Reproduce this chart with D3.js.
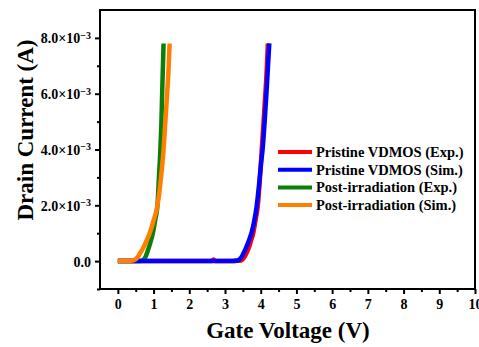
<!DOCTYPE html>
<html><head><meta charset="utf-8">
<script src="https://cdn.jsdelivr.net/npm/d3@7"></script>
<style>body{margin:0;background:#fff;}svg{display:block;}</style>
</head><body>
<script>
// ---- data ----
const seriesNames = ["Pristine VDMOS (Exp.)","Pristine VDMOS (Sim.)","Post-irradiation (Exp.)","Post-irradiation (Sim.)"];
const seriesColors = ["#ff0000","#0000ff","#0a800a","#ff8000"];
const pristineExpV = [0,1,2,2.62,2.68,2.73,3.0,3.4,3.48,3.54,3.6,3.66,3.72,3.79,3.86,3.92,3.98,4.03,4.08,4.13,4.17,4.2];
const pristineExpI = [0,0,0,0,0.06e-3,0,0,0.01e-3,0.05e-3,0.14e-3,0.28e-3,0.45e-3,0.7e-3,1.0e-3,1.5e-3,2.0e-3,3.0e-3,4.0e-3,5.0e-3,6.0e-3,6.9e-3,7.8e-3];
const pristineSimV = [0,1,2,3.2,3.33,3.4,3.46,3.51,3.57,3.64,3.7,3.75,3.82,3.89,3.95,4.01,4.06,4.11,4.16,4.2,4.24];
const pristineSimI = [0,0,0,0,0.02e-3,0.06e-3,0.14e-3,0.26e-3,0.42e-3,0.64e-3,0.85e-3,1.05e-3,1.45e-3,2.0e-3,2.7e-3,3.5e-3,4.1e-3,5.0e-3,6.0e-3,6.9e-3,7.8e-3];
const postExpV = [0,0.3,0.6,0.68,0.74,0.79,0.84,0.9,0.98,1.05,1.11,1.15,1.19,1.22,1.24,1.26,1.28];
const postExpI = [0,0,0,0.02e-3,0.08e-3,0.2e-3,0.38e-3,0.62e-3,1.0e-3,1.5e-3,2.0e-3,3.0e-3,4.0e-3,5.0e-3,6.0e-3,6.9e-3,7.8e-3];
const postSimV = [0,0.3,0.4,0.5,0.56,0.61,0.66,0.72,0.8,0.89,1.0,1.11,1.2,1.28,1.33,1.38,1.42,1.45];
const postSimI = [0,0.005e-3,0.02e-3,0.07e-3,0.15e-3,0.26e-3,0.36e-3,0.5e-3,0.72e-3,1.0e-3,1.45e-3,2.0e-3,2.9e-3,4.0e-3,5.0e-3,6.0e-3,6.9e-3,7.8e-3];
const xTicks = [0,1,2,3,4,5,6,7,8,9,10];
const xMinor = [0.5,1.5,2.5,3.5,4.5,5.5,6.5,7.5,8.5,9.5];
const yTicks = [0,2e-3,4e-3,6e-3,8e-3];
const yTickMantissa = ["0.0","2.0","4.0","6.0","8.0"];
const yMinor = [-1e-3,1e-3,3e-3,5e-3,7e-3];
const xTitle = "Gate Voltage (V)";
const yTitle = "Drain Current (A)";

const W = 479, H = 347;
const mLeft = 100, mRight = 475, mTop = 10, mBottom = 289;
const x = d3.scaleLinear().domain([-0.5,10]).range([mLeft,mRight]);
const y = d3.scaleLinear().domain([-1e-3,9e-3]).range([mBottom,mTop]);

const svg = d3.select("body").append("svg").attr("width",W).attr("height",H);
const font = "'Liberation Serif','Times New Roman',serif";

// series (draw order: red, green, blue, orange)
const series = [
  {V:pristineExpV,I:pristineExpI,i:0},
  {V:postExpV,I:postExpI,i:2},
  {V:pristineSimV,I:pristineSimI,i:1},
  {V:postSimV,I:postSimI,i:3}
];
const line = d3.line().x(d=>x(d[0])).y(d=>y(d[1])).curve(d3.curveMonotoneX);
series.forEach(s=>{
  const pts = s.V.map((v,k)=>[v,s.I[k]]);
  svg.append("path").attr("d",line(pts)).attr("fill","none")
    .attr("stroke",seriesColors[s.i]).attr("stroke-width",4.5).attr("stroke-linejoin","round");
});

// frame
svg.append("rect").attr("x",mLeft).attr("y",mTop).attr("width",mRight-mLeft).attr("height",mBottom-mTop)
  .attr("fill","none").attr("stroke","#000").attr("stroke-width",2);

// x axis
const xAxis = d3.axisBottom(x).tickValues(xTicks).tickSize(5).tickPadding(5).tickFormat(d3.format("d"));
const gx = svg.append("g").attr("transform",`translate(0,${mBottom})`).call(xAxis);
gx.select(".domain").remove();
gx.selectAll(".tick line").attr("stroke-width",2);
gx.selectAll("text").attr("font-family",font).attr("font-weight","bold").attr("font-size",14).attr("fill","#000");
const gxm = svg.append("g").attr("transform",`translate(0,${mBottom})`).call(d3.axisBottom(x).tickValues(xMinor).tickSize(3).tickFormat(""));
gxm.select(".domain").remove();
gxm.selectAll(".tick line").attr("stroke-width",2);

// y axis
const yAxis = d3.axisLeft(y).tickValues(yTicks).tickSize(5).tickPadding(4).tickFormat("");
const gy = svg.append("g").attr("transform",`translate(${mLeft},0)`).call(yAxis);
gy.select(".domain").remove();
gy.selectAll(".tick line").attr("stroke-width",2);
gy.selectAll(".tick").each(function(d,k){
  const t = d3.select(this).append("text").attr("x",-9).attr("dy","0.35em")
    .attr("text-anchor","end").attr("font-family",font).attr("font-weight","bold").attr("font-size",14).attr("fill","#000");
  if (d===0) { t.text(yTickMantissa[k]); }
  else {
    t.append("tspan").text(yTickMantissa[k]+"×10");
    t.append("tspan").attr("dy","-0.45em").attr("font-size",10).text("−3");
  }
});
const gym = svg.append("g").attr("transform",`translate(${mLeft},0)`).call(d3.axisLeft(y).tickValues(yMinor).tickSize(3).tickFormat(""));
gym.select(".domain").remove();
gym.selectAll(".tick line").attr("stroke-width",2);

// titles
svg.append("text").attr("x",288).attr("y",338).attr("text-anchor","middle")
  .attr("font-family",font).attr("font-weight","bold").attr("font-size",23).text(xTitle);
svg.append("text").attr("transform","translate(33,130) rotate(-90)").attr("text-anchor","middle")
  .attr("font-family",font).attr("font-weight","bold").attr("font-size",23).text(yTitle);

// legend
const lg = svg.append("g");
seriesNames.forEach((n,k)=>{
  const yy = 152 + k*17.7;
  lg.append("line").attr("x1",278).attr("x2",312).attr("y1",yy).attr("y2",yy)
    .attr("stroke",seriesColors[k]).attr("stroke-width",4);
  lg.append("text").attr("x",316).attr("y",yy).attr("dy","0.35em")
    .attr("font-family",font).attr("font-weight","bold").attr("font-size",14.5).text(n);
});
</script>
</body></html>
